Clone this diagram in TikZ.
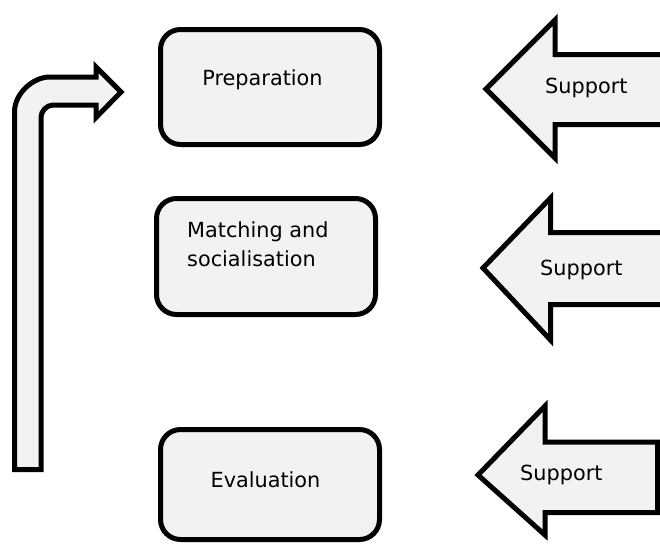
\documentclass[tikz,border=0pt]{standalone}
\usepackage{fontspec}
\setmainfont{DejaVu Sans}
\definecolor{boxfill}{HTML}{F2F2F2}
\begin{document}
\begin{tikzpicture}[x=1pt,y=-1pt,
  shapeline/.style={draw=black,line width=5pt,fill=boxfill,line join=miter},
  stagebox/.style={shapeline,rounded corners=20pt,inner sep=0pt,minimum width=219pt},
  lbl/.style={font=\fontsize{20.8}{29}\selectfont,inner sep=0pt,text=black}]
\useasboundingbox (0,0) rectangle (660,544);
\clip (0,0) rectangle (660,544);
% bent arrow
\draw[shapeline] (14.5,469.5) -- (14.5,112) .. controls (14.5,92.7) and (33.8,77) .. (49.5,77)
  -- (96,77) -- (96,67) -- (121,92) -- (96,117.5) -- (96,105) -- (53,105)
  .. controls (46.4,105) and (41,111.6) .. (41,117) -- (41,469.5) -- cycle;
% stage boxes
\node[stagebox,minimum height=115pt] (prep) at (270,87) {};
\node[stagebox,minimum height=116pt] (match) at (266,256.5) {};
\node[stagebox,minimum height=110pt] (eval) at (270,484.5) {};
\node[lbl,anchor=base] (preptxt) at (262.5,85) {Preparation};
\node[lbl,anchor=base west,align=left] (matchtxt) at (187,266) {Matching and\\socialisation};
\node[lbl,anchor=base] (evaltxt) at (265.5,487) {Evaluation};
% support arrows
\draw[shapeline] (700,54.5) -- (555,54.5) -- (555,20) -- (486,89) -- (555,158) -- (555,124.5) -- (700,124.5);
\draw[shapeline] (700,232.5) -- (550.5,232.5) -- (550.5,198) -- (483,268) -- (550.5,340) -- (550.5,304.5) -- (700,304.5);
\draw[shapeline] (657.5,442) -- (545,442) -- (545,406) -- (478,475) -- (545,535) -- (545,512.5) -- (657.5,512.5) -- cycle;
\node[lbl,anchor=base west] (sup1) at (545,93.3) {Support};
\node[lbl,anchor=base west] (sup2) at (540,275) {Support};
\node[lbl,anchor=base west] (sup3) at (520,480) {Support};
\end{tikzpicture}
\end{document}
